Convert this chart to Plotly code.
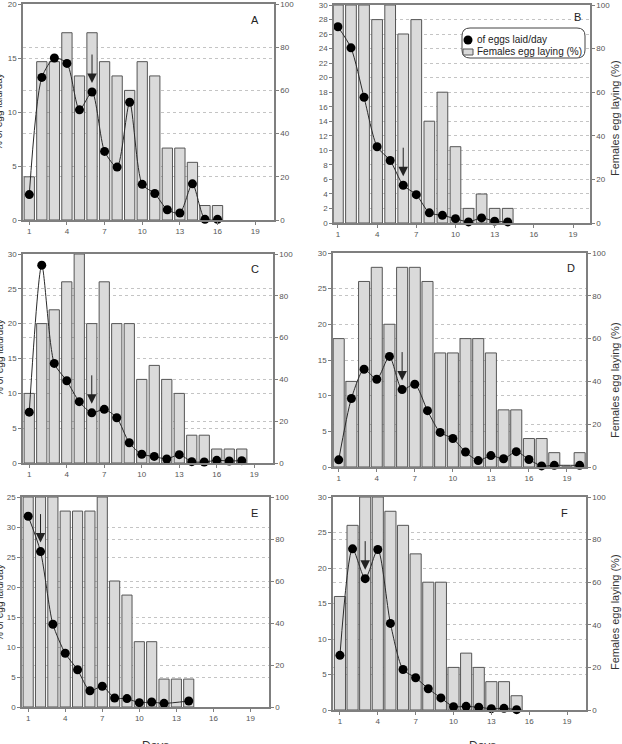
import plotly.graph_objects as go

# ---------------- data ----------------
days_A = list(range(1, 17))
eggs_A = [2.35, 13.2, 15.0, 14.5, 10.2, 11.85, 6.35, 4.9, 10.9, 3.3, 2.45, 0.95, 0.65, 3.35, 0.06, 0.06]
fem_A = [20, 73.3, 73.3, 86.7, 66.7, 86.7, 73.3, 66.7, 60, 73.3, 66.7, 33.3, 33.3, 26.7, 6.7, 6.7]

days_B = list(range(1, 15))
eggs_B = [27.0, 24.1, 17.3, 10.5, 8.6, 5.2, 3.9, 1.4, 1.05, 0.6, 0.15, 0.7, 0.25, 0.15]
fem_B = [100, 100, 100, 93.3, 100, 86.7, 93.3, 46.7, 60, 35, 6.7, 13.3, 6.7, 6.7]

days_C = list(range(1, 19))
eggs_C = [7.3, 28.4, 14.3, 11.8, 8.8, 7.2, 7.7, 6.5, 2.9, 1.25, 0.95, 0.57, 1.2, 0.19, 0.14, 0.38, 0.29, 0.34]
fem_C = [33.3, 66.7, 73.3, 86.7, 100, 66.7, 86.7, 66.7, 66.7, 40, 46.7, 40, 33.3, 13.3, 13.3, 6.7, 6.7, 6.7]

days_D = list(range(1, 21))
eggs_D = [1.0, 9.6, 13.7, 12.3, 15.5, 10.85, 11.6, 7.9, 4.85, 4.0, 2.1, 0.9, 1.6, 1.15, 2.15, 1.05, 0.15, 0.23, None, 0.23]
fem_D = [60, 40, 86.7, 93.3, 66.7, 93.3, 93.3, 86.7, 53.3, 53.3, 60, 60, 53.3, 26.7, 26.7, 13.3, 13.3, 6.7, 0, 6.7]

days_E = list(range(1, 15))
eggs_E = [31.8, 25.9, 13.8, 8.95, 6.2, 2.7, 3.45, 1.5, 1.4, 0.72, 0.83, 0.61, None, 1.0]
fem_E = [100, 100, 100, 93.3, 93.3, 93.3, 100, 60, 53.3, 31.1, 31.1, 13.3, 13.3, 13.3]

days_F = list(range(1, 16))
eggs_F = [7.7, 22.7, 18.5, 22.6, 12.2, 5.7, 4.55, 3.0, 1.7, 0.47, 0.52, 0.38, 0.19, 0.23, 0.05]
fem_F = [53.3, 86.7, 100, 100, 93.3, 86.7, 73.3, 60, 60, 20, 26.7, 20, 13.3, 13.3, 6.7]

letters = ["A", "B", "C", "D", "E", "F"]
arrow_day = [6, 6, 6, 6, 2, 3]
xticks = [1, 4, 7, 10, 13, 16, 19]
left_max = [20, 30, 30, 30, 35, 30]
left_step = [5, 2, 5, 5, 5, 5]
right_ticks = [0, 20, 40, 60, 80, 100]
legend_labels = ["of eggs laid/day", "Females egg laying (%)"]
left_title = "% of egg laid/day"
right_title = "Females egg laying (%)"
x_title = "Days"

days_all = [days_A, days_B, days_C, days_D, days_E, days_F]
eggs_all = [eggs_A, eggs_B, eggs_C, eggs_D, eggs_E, eggs_F]
fem_all = [fem_A, fem_B, fem_C, fem_D, fem_E, fem_F]

# ---------------- layout geometry (pixels) ----------------
W, H = 622, 744
boxes = [  # x0, x1, ytop, ybottom
    (23, 274, 4, 220),
    (334, 590, 5, 223),
    (23, 273, 254, 463),
    (333, 586, 253, 467),
    (22, 269, 497, 707),
    (333, 586, 497, 710),
]
xranges = [(0.5, 20.5), (0.7, 20.3), (0.5, 20.5), (0.55, 20.5), (0.5, 20.5), (0.45, 20.5)]
bar_w = [0.82, 0.82, 0.82, 0.87, 0.82, 0.88]
letter_pos = [(255, 20), (577, 17), (255, 269), (571, 268), (254, 513), (564, 513)]


def px(x):
    return x / W


def py(y):
    return 1 - y / H


AX_COL = "#7f7f7f"
GRID_COL = "#c4c4c4"
TICK_FONT = dict(family="Liberation Sans, Arial", size=8, color="#555555")

fig = go.Figure()
layout = dict(
    width=W, height=H, margin=dict(l=0, r=0, t=0, b=0),
    paper_bgcolor="white", plot_bgcolor="white", showlegend=False,
    annotations=[], shapes=[],
)

for k in range(6):
    xn = f"x{k + 1}"
    ymain = f"y{2 * k + 1}"
    yov = f"y{2 * k + 2}"
    x0, x1, yt, yb = boxes[k]
    fig.add_trace(go.Bar(
        x=days_all[k], y=fem_all[k], xaxis=xn, yaxis=ymain, width=bar_w[k],
        marker=dict(color="#dadada", line=dict(color="#555555", width=1)),
    ))
    fig.add_trace(go.Scatter(
        x=days_all[k], y=eggs_all[k], xaxis=xn, yaxis=yov, mode="lines+markers",
        connectgaps=True, cliponaxis=False,
        line=dict(color="#2a2a2a", width=1, shape="spline", smoothing=0.7),
        marker=dict(color="black", size=9, line=dict(width=0)),
    ))
    axkey = "xaxis" if k == 0 else f"xaxis{k + 1}"
    layout[axkey] = dict(
        domain=[px(x0), px(x1)], anchor=ymain, range=list(xranges[k]),
        tickvals=xticks, ticks="outside", ticklen=3, tickcolor=AX_COL,
        showline=True, linecolor=AX_COL, linewidth=1.5, mirror=True,
        showgrid=False, zeroline=False, tickfont=TICK_FONT, automargin=False,
        ticklabeloverflow="allow",
    )
    mkey = "yaxis" if k == 0 else f"yaxis{2 * k + 1}"
    layout[mkey] = dict(
        domain=[py(yb), py(yt)], anchor=xn, side="right", range=[0, 100],
        tickvals=right_ticks, ticks="outside", ticklen=3, tickcolor=AX_COL,
        showline=True, linecolor=AX_COL, linewidth=1.5,
        showgrid=True, gridcolor=GRID_COL, griddash="dot", gridwidth=1,
        zeroline=False, tickfont=TICK_FONT, automargin=False,
        ticklabeloverflow="allow",
    )
    lt = list(range(0, left_max[k] + 1, left_step[k]))
    ltext = [str(v) for v in lt]
    if k == 4:
        ltext[-1] = "25"
    layout[f"yaxis{2 * k + 2}"] = dict(
        overlaying=ymain, anchor=xn, side="left", range=[0, left_max[k]],
        tickvals=lt, ticktext=ltext, ticks="outside", ticklen=3, tickcolor=AX_COL,
        showline=True, linecolor=AX_COL, linewidth=1.5,
        showgrid=True, gridcolor=GRID_COL, griddash="dot", gridwidth=1,
        zeroline=False, tickfont=TICK_FONT, automargin=False,
        ticklabeloverflow="allow",
    )
    # arrow marking a day
    d = arrow_day[k]
    layout["annotations"].append(dict(
        x=d, y=eggs_all[k][days_all[k].index(d)], xref=xn, yref=yov,
        text="", showarrow=True, ax=0, ay=-39, standoff=9,
        arrowhead=2, arrowsize=1.9, arrowwidth=1, arrowcolor="#222222",
    ))
    # panel letter
    lx, ly = letter_pos[k]
    layout["annotations"].append(dict(
        x=px(lx), y=py(ly), xref="paper", yref="paper", text=letters[k],
        showarrow=False, xanchor="center", yanchor="middle",
        font=dict(family="Liberation Sans, Arial", size=11, color="#222222"),
    ))

# left titles (clipped at page edge, as in the reference) and right titles
for cy in (112, 358, 603):
    layout["annotations"].append(dict(
        x=px(-1), y=py(cy), xref="paper", yref="paper", text=left_title,
        textangle=-90, showarrow=False, xanchor="center", yanchor="middle",
        font=dict(family="Liberation Sans, Arial", size=10, color="#333333"),
    ))
for cy in (118, 380, 612):
    layout["annotations"].append(dict(
        x=px(615), y=py(cy), xref="paper", yref="paper", text=right_title,
        textangle=-90, showarrow=False, xanchor="center", yanchor="middle",
        font=dict(family="Liberation Sans, Arial", size=11, color="#333333"),
    ))
for cx in (155, 482):
    layout["annotations"].append(dict(
        x=px(cx), y=py(737), xref="paper", yref="paper", text=x_title,
        showarrow=False, xanchor="center", yanchor="top",
        font=dict(family="Liberation Sans, Arial", size=12, color="#333333"),
    ))

# custom legend in panel B
lx0, lx1, ly0, ly1, r = 462, 585, 28, 58, 8
path = (f"M {px(lx0 + r)},{py(ly0)} L {px(lx1 - r)},{py(ly0)} "
        f"Q {px(lx1)},{py(ly0)} {px(lx1)},{py(ly0 + r)} L {px(lx1)},{py(ly1 - r)} "
        f"Q {px(lx1)},{py(ly1)} {px(lx1 - r)},{py(ly1)} L {px(lx0 + r)},{py(ly1)} "
        f"Q {px(lx0)},{py(ly1)} {px(lx0)},{py(ly1 - r)} L {px(lx0)},{py(ly0 + r)} "
        f"Q {px(lx0)},{py(ly0)} {px(lx0 + r)},{py(ly0)} Z")
layout["shapes"].append(dict(type="path", path=path, xref="paper", yref="paper",
                             fillcolor="white", line=dict(color="#444444", width=1)))
layout["shapes"].append(dict(type="circle", xref="paper", yref="paper",
                             x0=px(463.5), x1=px(472.5), y0=py(44.5), y1=py(35.5),
                             fillcolor="black", line=dict(width=0)))
layout["shapes"].append(dict(type="rect", xref="paper", yref="paper",
                             x0=px(463), x1=px(473), y0=py(55), y1=py(49),
                             fillcolor="#dadada", line=dict(color="#555555", width=1)))
for text, cy in zip(legend_labels, (40, 52)):
    layout["annotations"].append(dict(
        x=px(475), y=py(cy), xref="paper", yref="paper", text=text,
        showarrow=False, xanchor="left", yanchor="middle",
        font=dict(family="Liberation Sans, Arial", size=10, color="#222222"),
    ))

fig.update_layout(**layout)
fig.write_html("out.html")
